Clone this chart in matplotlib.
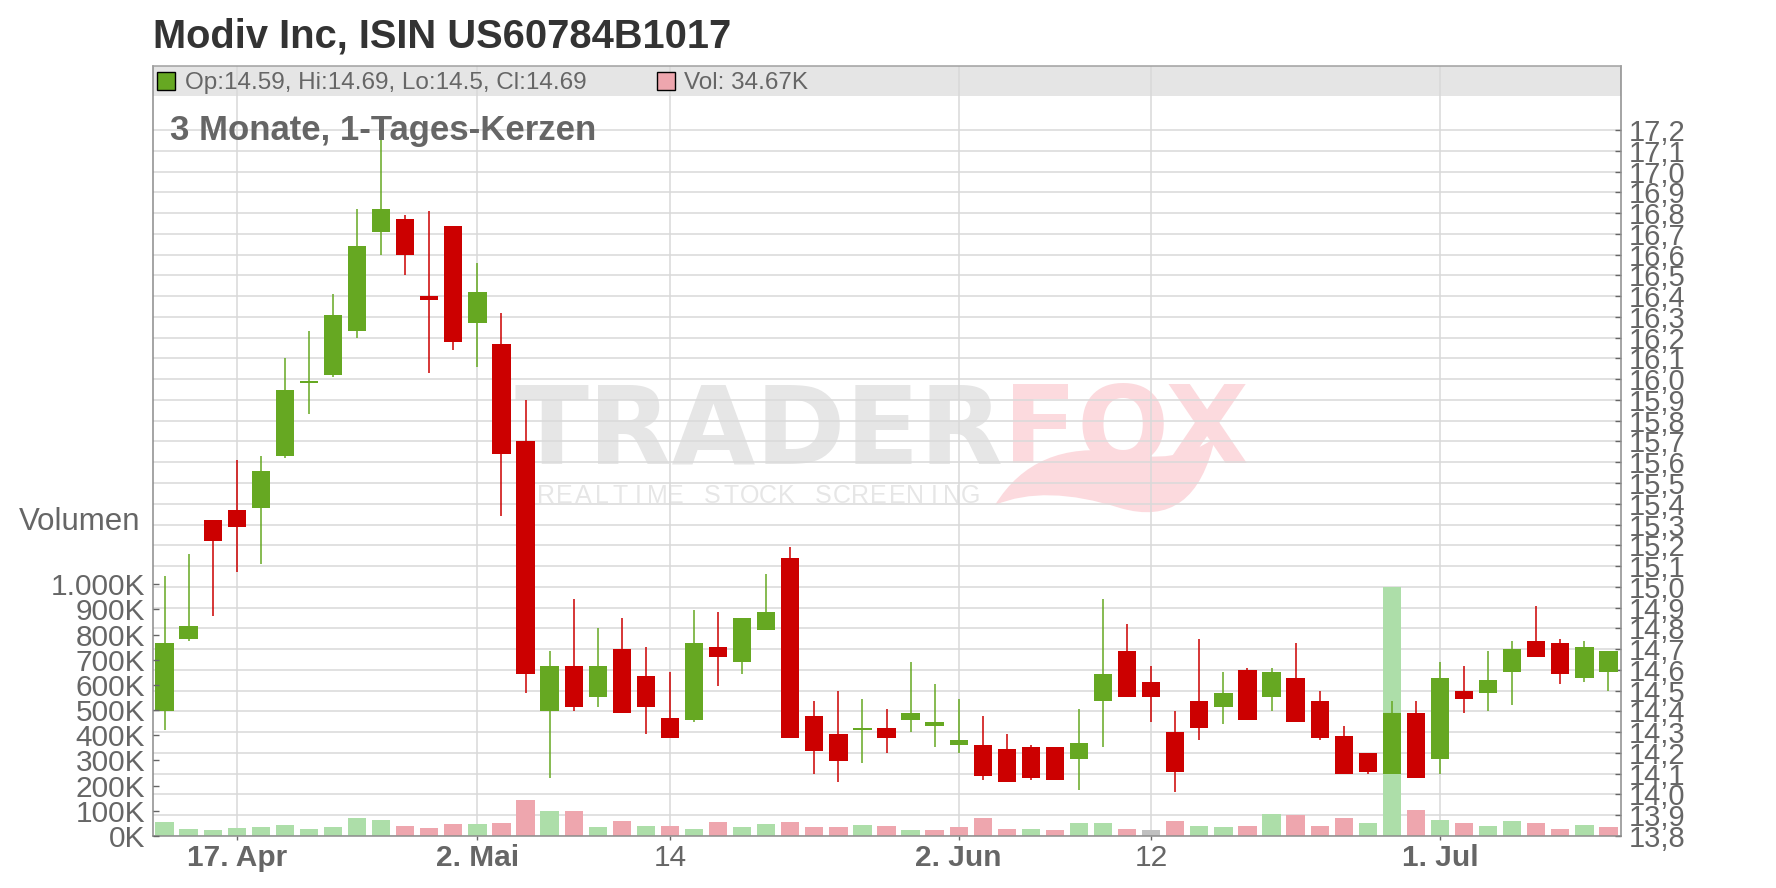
import numpy as np
import matplotlib
matplotlib.use("Agg")
import matplotlib.pyplot as plt
from matplotlib.patches import Rectangle, PathPatch
from matplotlib.path import Path
from matplotlib.ticker import FuncFormatter

plt.rcParams['font.family'] = ['Liberation Sans', 'DejaVu Sans']

title = "Modiv Inc, ISIN US60784B1017"
subtitle = "3 Monate, 1-Tages-Kerzen"

# daily candles, oldest first
opens = [14.40, 14.75, 15.32, 15.37, 15.38, 15.63, 15.98, 16.02, 16.23, 16.71,
         16.77, 16.40, 16.74, 16.27, 16.17, 15.70, 14.40, 14.62, 14.47, 14.70,
         14.57, 14.37, 14.36, 14.71, 14.64, 14.79, 15.14, 14.38, 14.29, 14.31,
         14.32, 14.36, 14.33, 14.24, 14.24, 14.22, 14.23, 14.23, 14.17, 14.45,
         14.69, 14.54, 14.30, 14.45, 14.42, 14.60, 14.47, 14.56, 14.45, 14.28,
         14.20, 14.10, 14.39, 14.17, 14.50, 14.49, 14.59, 14.74, 14.73, 14.56,
         14.59]
highs = [15.05, 15.16, 15.32, 15.61, 15.63, 16.10, 16.23, 16.41, 16.82, 17.15,
         16.79, 16.81, 16.74, 16.56, 16.32, 15.90, 14.69, 14.94, 14.80, 14.85,
         14.71, 14.59, 14.89, 14.88, 14.85, 15.06, 15.19, 14.45, 14.50, 14.46,
         14.41, 14.64, 14.53, 14.46, 14.38, 14.29, 14.24, 14.23, 14.41, 14.94,
         14.82, 14.62, 14.40, 14.75, 14.59, 14.61, 14.61, 14.73, 14.50, 14.33,
         14.20, 14.45, 14.45, 14.64, 14.62, 14.69, 14.74, 14.91, 14.75, 14.74,
         14.69]
lows = [14.31, 14.74, 14.86, 15.07, 15.11, 15.62, 15.83, 16.01, 16.20, 16.60,
        16.50, 16.03, 16.14, 16.06, 15.34, 14.49, 14.08, 14.40, 14.42, 14.39,
        14.29, 14.27, 14.35, 14.52, 14.58, 14.79, 14.27, 14.10, 14.06, 14.15,
        14.20, 14.30, 14.23, 14.20, 14.07, 14.06, 14.07, 14.07, 14.02, 14.23,
        14.47, 14.35, 14.01, 14.26, 14.34, 14.36, 14.40, 14.35, 14.26, 14.10,
        14.10, 14.10, 14.08, 14.10, 14.39, 14.40, 14.43, 14.66, 14.53, 14.54,
        14.50]
closes = [14.73, 14.81, 15.22, 15.29, 15.56, 15.95, 15.99, 16.31, 16.64, 16.82,
          16.60, 16.38, 16.18, 16.42, 15.64, 14.58, 14.62, 14.42, 14.62, 14.39,
          14.42, 14.27, 14.73, 14.66, 14.85, 14.88, 14.27, 14.21, 14.16, 14.32,
          14.27, 14.39, 14.35, 14.26, 14.09, 14.06, 14.08, 14.07, 14.25, 14.58,
          14.47, 14.47, 14.11, 14.32, 14.49, 14.36, 14.59, 14.35, 14.27, 14.10,
          14.11, 14.39, 14.08, 14.56, 14.46, 14.55, 14.70, 14.66, 14.58, 14.71,
          14.69]
volumes = [55600, 27800, 23800, 31800, 35800, 43700, 27800, 35800, 71500, 63600,
           39700, 31800, 47700, 47700, 51600, 143000, 99300, 99300, 35800, 59600,
           39700, 39700, 27800, 55600, 35800, 47700, 55600, 35800, 35800, 43700,
           39700, 23800, 23800, 35800, 71500, 27800, 27800, 23800, 51600, 51600,
           27800, 23800, 59600, 39700, 35800, 39700, 87400, 83400, 39700, 71500,
           51600, 988000, 103000, 63600, 51600, 39700, 59600, 51600, 27800, 43700,
           34670]

date_ticks = [3, 13, 21, 33, 41, 53]
date_labels = ["17. Apr", "2. Mai", "14", "2. Jun", "12", "1. Jul"]
date_bold = [True, True, False, True, False, True]
price_ticks = np.round(np.arange(13.8, 17.25, 0.1), 1)
vol_ticks = np.arange(0, 1000001, 100000)

GREEN = '#66a822'
RED = '#cc0000'
VGREEN = '#addea9'
VRED = '#eea6ae'
VGRAY = '#c0c0c0'
GRID = '#d9d9d9'
TXT = '#666666'
WM_GRAY = '#e6e6e6'
WM_PINK = '#fcdade'

W, H = 1776, 888
def fx(px):
    return px / W
def fy(py):
    return 1 - py / H

fig = plt.figure(figsize=(W / 100, H / 100), dpi=100)
ax = fig.add_axes([fx(152.5), fy(836), (1620.5 - 152.5) / W, (836 - 66) / H])
ax_v = ax.twinx()

o = np.array(opens)
h = np.array(highs)
l = np.array(lows)
c = np.array(closes)
v = np.array(volumes)
x = np.arange(len(o))

ax.set_xlim(-0.5, len(o) - 0.5)
ax.set_ylim(13.8, 13.8 + 770 / 207.65)
ax_v.set_ylim(0, 770 / 251.7 * 1e6)

# volume, coloured by close vs previous close
prev = np.r_[c[0] - 1, c[:-1]]
vcol = np.where(c > prev, VGREEN, np.where(c < prev, VRED, VGRAY))
ax.bar(x, v, width=0.76, color=vcol, linewidth=0, zorder=2, transform=ax_v.transData)

# candles
ccol = np.where(c >= o, GREEN, RED)
ax.vlines(x, l, h, colors=ccol, lw=1.1, zorder=3)
body = np.maximum(np.abs(c - o), 0.01)
ax.bar(x, body, bottom=np.minimum(o, c), width=0.76, color=ccol, linewidth=0, zorder=4)

# grid and axes styling
ax.set_axisbelow(True)
ax.set_yticks(price_ticks)
ax.set_xticks(date_ticks)
ax.set_xticklabels(date_labels)
for lab, b in zip(ax.get_xticklabels(), date_bold):
    lab.set_fontweight('bold' if b else 'normal')
ax.grid(True, color=GRID, lw=1.1)
ax.yaxis.tick_right()
ax.yaxis.set_major_formatter(FuncFormatter(lambda val, _: f"{val:.1f}".replace(".", ",")))
ax.tick_params(axis='y', direction='in', length=4, width=1, color='#666666',
               labelsize=21, labelcolor=TXT, pad=6)
ax.tick_params(axis='x', direction='out', length=3, width=1, color='#666666',
               labelsize=21.5, labelcolor=TXT, pad=3)
for s in ax.spines.values():
    s.set_color('#8c8c8c')
    s.set_linewidth(1.1)
ax.spines['top'].set_color('#a0a0a0')

ax_v.yaxis.tick_left()
ax_v.set_yticks(vol_ticks)
ax_v.yaxis.set_major_formatter(FuncFormatter(lambda val, _: f"{val / 1000:,.0f}K".replace(",", ".")))
ax_v.tick_params(axis='y', direction='in', length=4, width=1, color='#666666',
                 labelsize=21.5, labelcolor=TXT, pad=5.4)
for s in ax_v.spines.values():
    s.set_visible(False)

# legend band
band_y0 = (836 - 96) / 770
ax.add_patch(Rectangle((0, band_y0), 1, 1 - band_y0, transform=ax.transAxes,
                       facecolor='#e5e5e5', edgecolor='none', zorder=0.1))

# watermark
ax.text(fx(1003), fy(463), "TRADER", transform=fig.transFigure, ha='right', va='baseline',
        family='DejaVu Sans', fontweight='bold', fontsize=78, color=WM_GRAY, zorder=0.2)
ax.text(fx(1003), fy(463), "FOX", transform=fig.transFigure, ha='left', va='baseline',
        family='DejaVu Sans', fontweight='bold', fontsize=78, color=WM_PINK, zorder=0.2)
wm = "REALTIME STOCK SCREENING"
step = (980 - 537) / len(wm)
for k, ch in enumerate(wm):
    ax.text(fx(537 + step * (k + 0.5)), fy(503), ch, transform=fig.transFigure, ha='center',
            va='baseline', fontsize=18, color=WM_GRAY, zorder=0.2)
# fox tail swoosh under the logo
tail_px = [(995, 505), (1035, 440), (1120, 452), (1175, 466), (1215, 438),
           (1195, 530), (1120, 508), (1045, 484), (995, 505)]
tail = Path([(fx(a), fy(b)) for a, b in tail_px],
            [Path.MOVETO, Path.CURVE3, Path.CURVE3, Path.CURVE3, Path.CURVE3,
             Path.CURVE3, Path.CURVE3, Path.CURVE3, Path.CURVE3])
ax.add_patch(PathPatch(tail, transform=fig.transFigure, facecolor=WM_PINK,
                       edgecolor='none', zorder=0.2))

# texts
fig.text(fx(153), fy(47), title, fontsize=28.7, fontweight='bold', color='#333333', va='baseline')
fig.text(fx(170), fy(140), subtitle, fontsize=25, fontweight='bold', color=TXT, va='baseline')
fig.text(fx(140), fy(522), "Volumen", fontsize=22.5, color=TXT, ha='right', va='center')

fig.add_artist(Rectangle((fx(157), fy(90)), 18 / W, 18 / H, transform=fig.transFigure,
                         facecolor=GREEN, edgecolor='black', lw=1))
fig.add_artist(Rectangle((fx(657), fy(90)), 18 / W, 18 / H, transform=fig.transFigure,
                         facecolor=VRED, edgecolor='black', lw=1))
fig.text(fx(185), fy(89), f"Op:{o[-1]:g}, Hi:{h[-1]:g}, Lo:{l[-1]:g}, Cl:{c[-1]:g}",
         fontsize=17.5, color=TXT, va='baseline')
fig.text(fx(684), fy(89), f"Vol: {v[-1] / 1000:.2f}K", fontsize=17.5, color=TXT, va='baseline')

fig.savefig("out.png", dpi=100)
